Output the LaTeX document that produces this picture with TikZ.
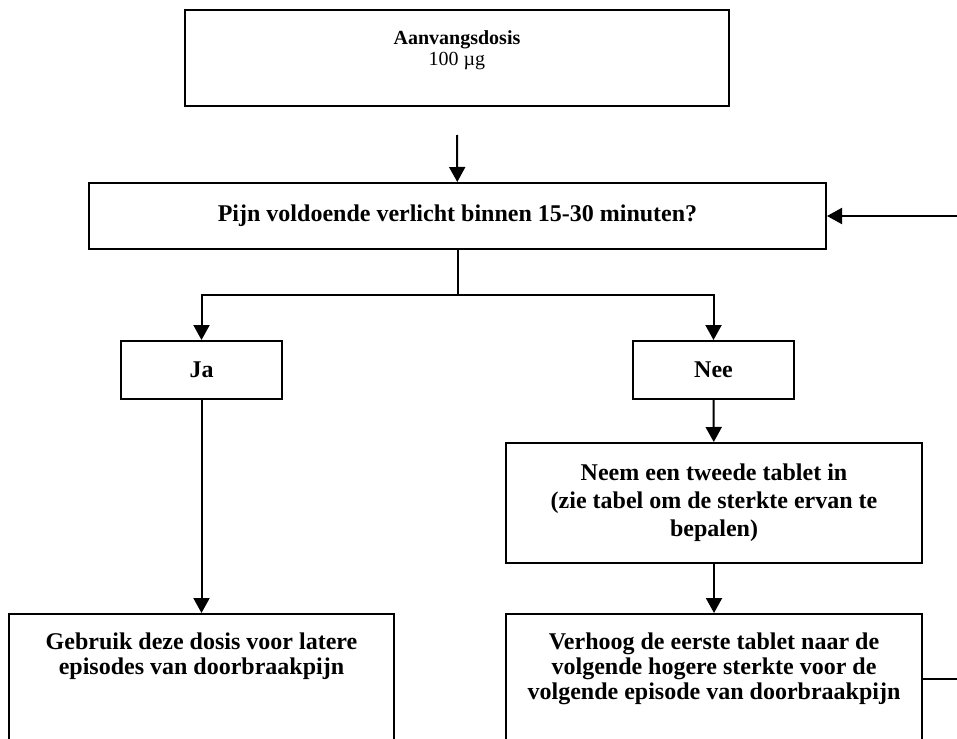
\documentclass[tikz,border=0pt]{standalone}
\usepackage{fontspec}
\setmainfont{Liberation Serif}
\usetikzlibrary{arrows.meta}

\tikzset{
  box/.style={draw, line width=2pt, inner sep=0pt},
  txt/.style={font=\bfseries\fontsize{24}{25}\selectfont, align=center, inner sep=0pt},
  arr/.style={line width=2pt, -{Triangle[width=16pt,length=15pt]}},
  conn/.style={line width=2pt}
}

\begin{document}
\begin{tikzpicture}[x=1pt, y=-1pt]
        \useasboundingbox (0,0) rectangle (957,738);
        \clip (0,0) rectangle (957,738);

        % Start box
        \node[box, minimum width=544pt, minimum height=96pt,
              label={[inner sep=0pt, align=center, font=\fontsize{20}{21}\selectfont, anchor=north, yshift=-21pt]north:{\textbf{Aanvangsdosis}\\100 µg}}] (start) at (457,58) {};
        \coordinate (in) at (457,135);

        % Question
        \node[box, txt, minimum width=737pt, minimum height=66pt] (check) at (457.5,216) {Pijn voldoende verlicht binnen 15-30 minuten?};

        % Answers
        \node[box, txt, minimum width=161pt, minimum height=58pt] (ja) at (201.5,370) {Ja};
        \node[box, txt, minimum width=161pt, minimum height=58pt] (nee) at (713.5,370) {Nee};

        % Second tablet
        \node[box, txt, font=\bfseries\fontsize{24}{28}\selectfont, minimum width=416pt, minimum height=120pt] (second) at (714,503)
              {Neem een tweede tablet in\\(zie tabel om de sterkte ervan te\\bepalen)};

        % Outcomes
        \node[box, anchor=north, minimum width=385pt, minimum height=130pt,
              label={[txt, anchor=north, yshift=-20pt]north:{Gebruik deze dosis voor latere\\episodes van doorbraakpijn}}] (keep) at (201.5,613) {};
        \node[box, anchor=north, minimum width=416pt, minimum height=130pt,
              label={[txt, anchor=north, yshift=-20pt]north:{Verhoog de eerste tablet naar de\\volgende hogere sterkte voor de\\volgende episode van doorbraakpijn}}] (raise) at (714,613) {};

        % Connectors
        \draw[arr] (in) -- (check);
        \draw[conn] (check.south) -- ++(0,45) coordinate (split);
        \draw[arr] (split) -| (ja.north);
        \draw[arr] (split) -| (nee.north);
        \draw[arr] (ja) -- (keep);
        \draw[arr] (nee) -- (second);
        \draw[arr] (second) -- (raise);
        \draw[arr] (raise.east) -- ++(60,0) |- (check.east);
    \end{tikzpicture}
\end{document}
